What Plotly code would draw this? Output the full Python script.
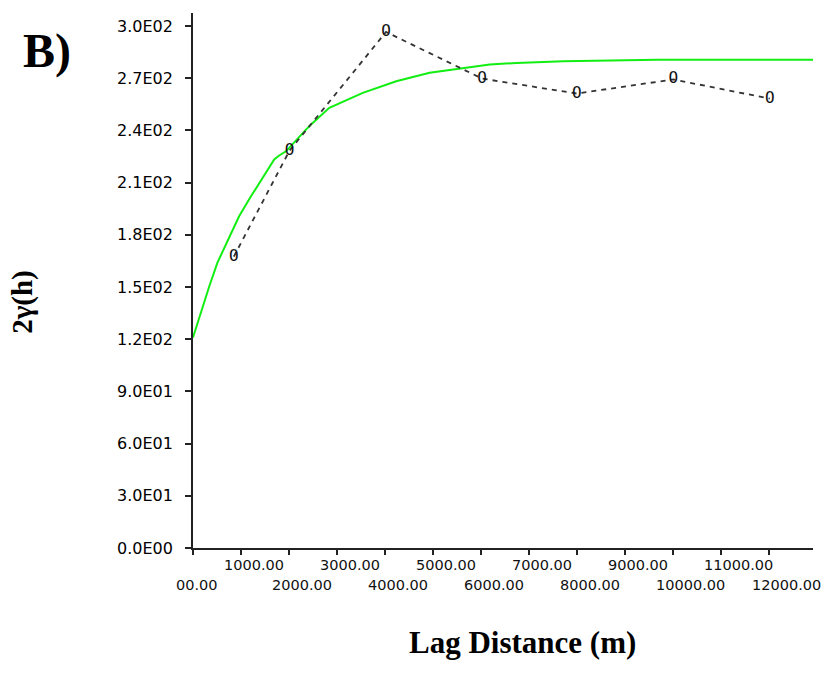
import plotly.graph_objects as go

# ---- data ----
lag_obs = [850, 2010, 4020, 6020, 7990, 10000, 12010]
gamma_obs = [167.5, 228.4, 296.6, 269.8, 261.2, 269.3, 258.3]

lag_model = [0, 194, 334, 507, 820, 960, 1204, 1378, 1691, 1795, 1935, 2353,
             2457, 2839, 3535, 4232, 4927, 6180, 6737, 7710, 9660, 12910]
gamma_model = [121, 138, 150, 163.9, 183, 190.7, 202, 209.9, 223.3, 225.6, 228,
               240.5, 243.4, 253, 261.6, 268.3, 273.1, 277.9, 278.8, 279.8,
               280.7, 280.7]

x_tickvals = [0, 1000, 2000, 3000, 4000, 5000, 6000, 7000, 8000, 9000, 10000,
              11000, 12000]
x_ticktext = ["00.00", "1000.00", "2000.00", "3000.00", "4000.00", "5000.00",
              "6000.00", "7000.00", "8000.00", "9000.00", "10000.00",
              "11000.00", "12000.00"]
y_tickvals = [0, 30, 60, 90, 120, 150, 180, 210, 240, 270, 300]
y_ticktext = ["0.0E00", "3.0E01", "6.0E01", "9.0E01", "1.2E02", "1.5E02",
              "1.8E02", "2.1E02", "2.4E02", "2.7E02", "3.0E02"]

# ---- layout geometry (pixels) ----
W, H = 822, 677
L, R, T, B = 193, 813, 13, 548.5


def px_x(p):
    return (p - L) / (R - L)


def px_y(p):
    return (B - p) / (B - T)


fig = go.Figure()

fig.add_trace(go.Scatter(
    x=lag_model, y=gamma_model, mode="lines",
    line=dict(color="#11ee11", width=2), hoverinfo="skip", showlegend=False))

fig.add_trace(go.Scatter(
    x=lag_obs, y=gamma_obs, mode="lines+text",
    text=["O"] * len(lag_obs), textposition="middle center",
    textfont=dict(family="DejaVu Sans Mono", size=16, color="#111111"),
    line=dict(color="#333333", width=1.8, dash="5px,5px"),
    showlegend=False))

annotations = []
# x tick labels (two staggered rows, left-aligned relative to the tick)
for i, (v, t) in enumerate(zip(x_tickvals, x_ticktext)):
    annotations.append(dict(
        x=v, y=0, xref="x", yref="y", text=t, showarrow=False,
        xanchor="left", yanchor="middle", xshift=-19,
        yshift=-16.5 if i % 2 == 1 else -36.5,
        font=dict(family="DejaVu Sans", size=14.5, color="#111111")))
# y tick labels (left-aligned column)
for v, t in zip(y_tickvals, y_ticktext):
    annotations.append(dict(
        x=px_x(115), y=v, xref="paper", yref="y", text=t, showarrow=False,
        xanchor="left", yanchor="middle",
        font=dict(family="DejaVu Sans", size=16, color="#000000")))

annotations.append(dict(
    x=px_x(46.5), y=px_y(51), xref="paper", yref="paper", text="<b>B)</b>",
    showarrow=False, xanchor="center", yanchor="middle",
    font=dict(family="Liberation Serif", size=48, color="black")))
annotations.append(dict(
    x=px_x(23), y=px_y(302), xref="paper", yref="paper", text="<b>2γ(h)</b>",
    showarrow=False, xanchor="center", yanchor="middle", textangle=-90,
    font=dict(family="Liberation Serif", size=29, color="black")))
annotations.append(dict(
    x=px_x(522), y=px_y(643), xref="paper", yref="paper",
    text="<b>Lag Distance (m)</b>",
    showarrow=False, xanchor="center", yanchor="middle",
    font=dict(family="Liberation Serif", size=31, color="black")))

fig.update_layout(
    width=W, height=H,
    margin=dict(l=L, r=W - R, t=T, b=H - B, pad=0),
    paper_bgcolor="white", plot_bgcolor="white",
    showlegend=False,
    annotations=annotations,
    xaxis=dict(range=[0, 12910], showgrid=False, zeroline=False,
               showline=True, linecolor="#222222", linewidth=2,
               ticks="outside", ticklen=5, tickwidth=2, tickcolor="#222222",
               tickvals=x_tickvals, showticklabels=False, fixedrange=True),
    yaxis=dict(range=[0, 307.5], showgrid=False, zeroline=False,
               showline=True, linecolor="#222222", linewidth=2,
               ticks="outside", ticklen=6, tickwidth=2, tickcolor="#222222",
               tickvals=y_tickvals, showticklabels=False, fixedrange=True),
)

fig.write_html(
    "out.html",
    config={"displayModeBar": False},
    post_script="document.body.style.margin='0';document.body.style.overflow='hidden';",
)
